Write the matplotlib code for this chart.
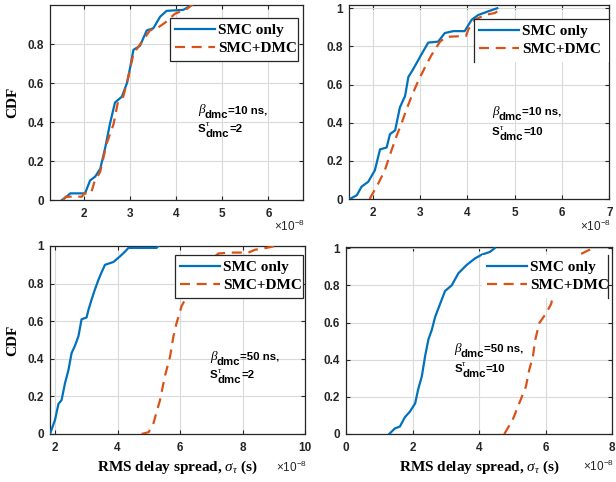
import matplotlib
matplotlib.use("Agg")
import matplotlib.pyplot as plt
from matplotlib.lines import Line2D
from matplotlib.font_manager import FontProperties

plt.rcParams['mathtext.fontset'] = 'custom'
plt.rcParams['mathtext.rm'] = 'Liberation Sans:bold'
plt.rcParams['mathtext.it'] = 'Liberation Serif:italic'
plt.rcParams['mathtext.bf'] = 'Liberation Sans:bold'
plt.rcParams['mathtext.sf'] = 'Liberation Sans'

# Empirical CDF vertices of the RMS delay spread, x in units of 1e-8 s
tl_smc_x = [1.52, 1.62, 1.70, 2.02, 2.13, 2.24, 2.35, 2.46, 2.56, 2.67, 2.82, 2.93, 3.00, 3.07, 3.21,
            3.36, 3.50, 3.65, 3.79, 4.15, 4.34]
tl_smc_y = [0.0, 0.017, 0.034, 0.034, 0.10, 0.12, 0.16, 0.27, 0.39, 0.50, 0.53, 0.60, 0.68, 0.77, 0.79,
            0.87, 0.88, 0.94, 0.97, 0.975, 1.0]
tl_dmc_x = [1.55, 1.60, 1.95, 2.00, 2.15, 2.22, 2.35, 2.49, 2.64, 2.74, 2.85, 2.96, 3.07, 3.25, 3.43,
            3.58, 3.76, 3.97, 4.23, 4.34]
tl_dmc_y = [0.0, 0.017, 0.017, 0.034, 0.034, 0.09, 0.145, 0.29, 0.39, 0.51, 0.53, 0.63, 0.75, 0.81, 0.87,
            0.88, 0.91, 0.955, 0.98, 1.0]

tr_smc_x = [1.51, 1.66, 1.76, 1.90, 2.04, 2.15, 2.29, 2.36, 2.47, 2.57, 2.68, 2.75, 2.85, 3.03, 3.17,
            3.38, 3.52, 3.70, 3.94, 4.09, 4.23, 4.51, 4.63]
tr_smc_y = [0.0, 0.02, 0.065, 0.09, 0.15, 0.26, 0.27, 0.34, 0.36, 0.48, 0.54, 0.64, 0.68, 0.76, 0.82,
            0.825, 0.87, 0.88, 0.88, 0.94, 0.965, 0.99, 1.0]
tr_dmc_x = [1.93, 2.11, 2.25, 2.40, 2.50, 2.61, 2.71, 2.82, 2.96, 3.10, 3.24, 3.42, 3.55, 3.97, 4.02,
            4.16, 4.37, 4.58, 4.73]
tr_dmc_y = [0.0, 0.08, 0.15, 0.26, 0.33, 0.40, 0.47, 0.54, 0.62, 0.69, 0.755, 0.825, 0.85, 0.855, 0.89,
            0.94, 0.965, 0.975, 1.0]

bl_smc_x = [1.84, 2.00, 2.11, 2.21, 2.32, 2.43, 2.53, 2.64, 2.75, 2.85, 3.01, 3.07, 3.17, 3.28, 3.39,
            3.49, 3.60, 3.87, 4.08, 4.24, 4.35, 5.25, 5.31]
bl_smc_y = [0.0, 0.075, 0.16, 0.18, 0.27, 0.34, 0.43, 0.47, 0.52, 0.61, 0.62, 0.66, 0.715, 0.77, 0.82,
            0.86, 0.90, 0.915, 0.945, 0.97, 0.99, 0.99, 1.0]
bl_dmc_x = [4.77, 5.00, 5.15, 5.36, 5.52, 5.68, 5.79, 5.89, 6.05, 6.21, 6.45, 6.75, 7.00, 7.23, 7.60,
            8.19, 8.40, 8.77, 9.04]
bl_dmc_y = [0.0, 0.01, 0.057, 0.18, 0.31, 0.41, 0.52, 0.59, 0.68, 0.73, 0.82, 0.89, 0.93, 0.96, 0.965,
            0.965, 0.98, 0.99, 1.0]

br_smc_x = [1.30, 1.47, 1.62, 1.77, 1.92, 2.08, 2.17, 2.28, 2.38, 2.48, 2.58, 2.68, 2.83, 2.98, 3.18,
            3.38, 3.63, 3.88, 4.08, 4.33, 4.47]
br_smc_y = [0.0, 0.03, 0.04, 0.09, 0.12, 0.165, 0.24, 0.31, 0.42, 0.51, 0.56, 0.63, 0.70, 0.77, 0.80,
            0.865, 0.91, 0.945, 0.965, 0.98, 1.0]
br_dmc_x = [4.76, 5.01, 5.21, 5.41, 5.51, 5.62, 5.69, 5.81, 6.02, 6.17, 6.26, 6.45, 6.70, 6.90, 7.02, 7.42]
br_dmc_y = [0.0, 0.075, 0.165, 0.255, 0.345, 0.415, 0.505, 0.596, 0.65, 0.70, 0.775, 0.85, 0.91, 0.95,
            0.965, 1.0]

series_labels = ['SMC only', 'SMC+DMC']
beta_labels = ['10', '10', '50', '50']
spread_labels = ['2', '10', '2', '10']
scale = 1e-8

BLUE = '#0072BD'
ORANGE = '#D95319'
INK = '#262626'
TICK_FONT = dict(family='Liberation Sans', weight='bold', size=8.5)
SERIF_BOLD = dict(family='Liberation Serif', weight='bold', size=11)
NOTE_FONT = dict(family='Liberation Sans', weight='bold', size=8.2)
GREEK_FONT = dict(family='Liberation Serif', style='italic', size=9.5)
SUP_FONT = dict(family='Liberation Serif', style='italic', size=6.3)

W, H = 616, 482
fig = plt.figure(figsize=(W / 100, H / 100), dpi=100)


def px_axes(l, t, r, b):
    return fig.add_axes([l / W, 1 - b / H, (r - l) / W, (b - t) / H])


def rich_line(ax, x, y, parts):
    """Draw a run of text pieces side by side; each piece is (text, font, rise_pt, anchor_index)."""
    first_text, first_font = parts[0][0], parts[0][1]
    pieces = [ax.text(x, y, first_text, transform=ax.transAxes, ha='left', va='baseline',
                      color='black', **first_font)]
    for text, font, rise, anchor in parts[1:]:
        ref = pieces[anchor]
        pieces.append(ax.annotate(text, xy=(1, y), xycoords=(ref, ax.transAxes),
                                  xytext=(0, rise), textcoords='offset points',
                                  ha='left', va='baseline', color='black', **font))
    return pieces


panels = [
    dict(rect=(50, 5, 303, 200), smc=(tl_smc_x, tl_smc_y), dmc=(tl_dmc_x, tl_dmc_y),
         xlim=(1.26, 6.75), xticks=[2, 3, 4, 5, 6], ylim=(0, 1.0), yticks=[0, 0.2, 0.4, 0.6, 0.8],
         leg=(0.474, 0.723, 0.506, 0.21), frame='full', note=(0.585, 0.446, 0.35), expo=-0.16,
         ylabel=True, xlabel=False),
    dict(rect=(349.3, 5, 609.3, 199), smc=(tr_smc_x, tr_smc_y), dmc=(tr_dmc_x, tr_dmc_y),
         xlim=(1.5, 7), xticks=[2, 3, 4, 5, 6, 7], ylim=(0, 1.017), yticks=[0, 0.2, 0.4, 0.6, 0.8, 1],
         leg=(0.48, 0.716, 0.52, 0.212), frame='lefttop', note=(0.549, 0.433, 0.33), expo=-0.165,
         ylabel=False, xlabel=False),
    dict(rect=(50, 246, 305, 434), smc=(bl_smc_x, bl_smc_y), dmc=(bl_dmc_x, bl_dmc_y),
         xlim=(1.84, 10), xticks=[2, 4, 6, 8, 10], ylim=(0, 1.0), yticks=[0, 0.2, 0.4, 0.6, 0.8, 1],
         leg=(0.49, 0.734, 0.502, 0.218), frame='full', note=(0.627, 0.394, 0.296), expo=-0.2,
         ylabel=True, xlabel=True),
    dict(rect=(346, 246.7, 612, 434), smc=(br_smc_x, br_smc_y), dmc=(br_dmc_x, br_dmc_y),
         xlim=(0, 8), xticks=[0, 2, 4, 6, 8], ylim=(0, 1.008), yticks=[0, 0.2, 0.4, 0.6, 0.8, 1],
         leg=(0.51, 0.731, 0.474, 0.225), frame='right', note=(0.407, 0.439, 0.333), expo=-0.2,
         ylabel=False, xlabel=True),
]

legends = []
for i, p in enumerate(panels):
    ax = px_axes(*p['rect'])
    ax.plot([v * scale for v in p['smc'][0]], p['smc'][1], color=BLUE, lw=1.6,
            label=series_labels[0], zorder=3)
    ax.plot([v * scale for v in p['dmc'][0]], p['dmc'][1], color=ORANGE, lw=1.6,
            linestyle=(0, (4.5, 3.0)), label=series_labels[1], zorder=3)
    ax.set_xlim(p['xlim'][0] * scale, p['xlim'][1] * scale)
    ax.set_ylim(*p['ylim'])
    ax.set_xticks([t * scale for t in p['xticks']])
    ax.set_xticklabels([str(t) for t in p['xticks']])
    ax.set_yticks(p['yticks'])
    ax.set_yticklabels(['0' if t == 0 else ('1' if t == 1 else f'{t:g}') for t in p['yticks']])
    for lab in ax.get_xticklabels() + ax.get_yticklabels():
        lab.set_fontproperties(FontProperties(**TICK_FONT))
    ax.tick_params(direction='in', length=3, width=0.8, top=True, right=True, colors=INK)
    ax.tick_params(axis='x', pad=6)
    ax.tick_params(axis='y', pad=4.5)
    ax.grid(True, color='#DADADA', lw=0.8, zorder=0)
    ax.set_axisbelow(True)
    for s in ax.spines.values():
        s.set_linewidth(0.9)
        s.set_color(INK)

    if p['ylabel']:
        ax.set_ylabel('CDF', fontdict=SERIF_BOLD, labelpad=6)
    if p['xlabel']:
        ax.set_xlabel(r'RMS delay spread, $\sigma_{\tau}$ (s)', fontdict=SERIF_BOLD, labelpad=3)

    nx, ny1, ny2 = p['note']
    rich_line(ax, nx, ny1, [('\u03b2', GREEK_FONT, 0, 0),
                            ('dmc', NOTE_FONT, -3.6, 0),
                            ('=' + beta_labels[i] + ' ns,', NOTE_FONT, 0, 1)])
    rich_line(ax, nx, ny2, [('S', NOTE_FONT, 0, 0),
                            ('\u03c4', SUP_FONT, 3.8, 0),
                            ('dmc', NOTE_FONT, -3.6, 0),
                            ('=' + spread_labels[i], NOTE_FONT, 0, 2)])

    ax.text(1.008, p['expo'], r'$\mathsf{\times10^{-8}}$', transform=ax.transAxes,
            ha='right', va='baseline', size=8.5, color=INK)

    leg = ax.legend(loc='upper left', bbox_to_anchor=p['leg'], mode='expand', borderaxespad=0,
                    prop=FontProperties(**SERIF_BOLD),
                    handlelength=2.6, handletextpad=0.2, borderpad=0.35, labelspacing=0.3,
                    fancybox=False, framealpha=1, facecolor='white')
    leg.get_frame().set_linewidth(0.9)
    if p['frame'] == 'full':
        leg.get_frame().set_edgecolor(INK)
    else:
        leg.get_frame().set_edgecolor('none')
    leg.set_zorder(5)
    legends.append((ax, leg, p['frame']))

fig.canvas.draw()
renderer = fig.canvas.get_renderer()
inv = fig.transFigure.inverted()
for ax, leg, frame in legends:
    if frame == 'full':
        continue
    bb = leg.get_frame().get_window_extent(renderer)
    (x0, y0), (x1, y1) = inv.transform([(bb.x0, bb.y0), (bb.x1, bb.y1)])
    if frame == 'lefttop':
        segs = [([x0, x0], [y0, y1]), ([x0, x1], [y1, y1])]
    else:
        segs = [([x1, x1], [y0, y1])]
    for xs, ys in segs:
        fig.add_artist(Line2D(xs, ys, transform=fig.transFigure, color=INK, lw=0.9, zorder=6))

fig.savefig('out.png', dpi=100)
